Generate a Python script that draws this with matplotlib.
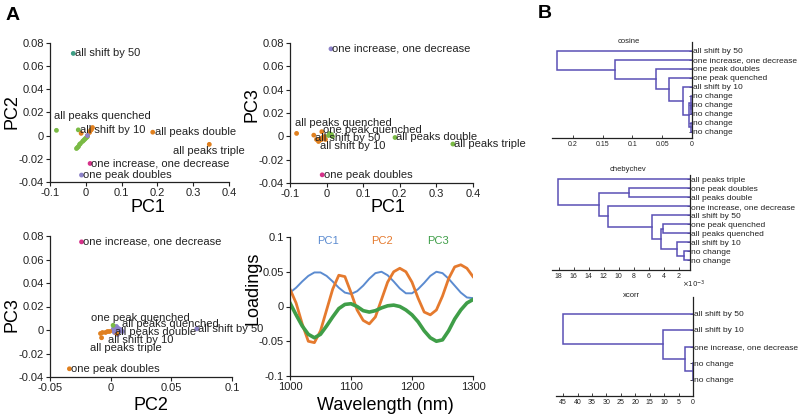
import matplotlib
matplotlib.use("Agg")
import matplotlib.pyplot as plt
import numpy as np

plt.rcParams['font.family'] = ['Liberation Sans', 'DejaVu Sans']
plt.rcParams['axes.unicode_minus'] = False

#-------- PCA scores of the labelled spectra ----------------------#
samples = ["all shift by 50", "all shift by 10", "all peaks quenched", "one peak quenched",
           "all peaks double", "all peaks triple", "one increase, one decrease", "one peak doubles"]
pc1 = [-0.035, -0.021, -0.082, -0.013, 0.187, 0.345, 0.012, -0.012]
pc2 = [0.071, 0.005, 0.0046, 0.002, 0.003, -0.0075, -0.024, -0.034]
pc3 = [0.001, -0.003, 0.0025, 0.004, -0.001, -0.0066, 0.075, -0.033]

# unlabelled points (replicates) near the origin, per panel
tl_green_x = [-0.027, -0.024, -0.021, -0.018, -0.015, -0.012, -0.009, -0.006, -0.003, 0.0, 0.003]
tl_green_y = [-0.011, -0.0098, -0.0086, -0.0074, -0.0062, -0.005, -0.004, -0.003, -0.002, -0.001, 0.0]
tl_orange_x = [0.004, 0.008, 0.011, 0.014, 0.017]
tl_orange_y = [0.001, 0.003, 0.0045, 0.006, 0.0075]
tr_orange_x = [-0.028, -0.024, -0.02, -0.016, -0.012, -0.008, -0.005]
tr_orange_y = [-0.002, -0.004, -0.003, -0.002, -0.001, 0.0, -0.002]
tr_green_x = [0.003, 0.007, 0.011, 0.014]
tr_green_y = [0.001, 0.003, 0.002, 0.0]
bl_orange_x = [-0.009, -0.007, -0.005, -0.003, -0.001, 0.001, 0.003]
bl_orange_y = [-0.0026, -0.002, -0.0015, -0.001, -0.0005, 0.0, 0.0006]
bl_purple_x = [0.002, 0.004, 0.006, 0.008, 0.003, 0.006, 0.009, 0.005]
bl_purple_y = [0.002, 0.003, 0.002, 0.001, -0.002, -0.001, -0.001, -0.003]

#-------- loadings -------------------------------------------------#
wavelength = list(range(1000, 1301, 10))
load_pc1 = [0.020, 0.027, 0.036, 0.044, 0.049, 0.049, 0.044, 0.036, 0.027, 0.020, 0.018,
            0.022, 0.030, 0.040, 0.048, 0.050, 0.045, 0.036, 0.026, 0.019, 0.019,
            0.025, 0.034, 0.044, 0.050, 0.048, 0.040, 0.030, 0.020, 0.013, 0.012]
load_pc2 = [0.025, 0.005, -0.025, -0.050, -0.052, -0.035, -0.005, 0.025, 0.045, 0.043, 0.020,
            -0.005, -0.020, -0.025, -0.015, 0.010, 0.035, 0.050, 0.055, 0.050, 0.035,
            0.012, -0.008, -0.012, -0.005, 0.015, 0.040, 0.057, 0.060, 0.055, 0.043]
load_pc3 = [0.005, -0.012, -0.028, -0.040, -0.045, -0.040, -0.028, -0.015, -0.003, 0.003, 0.004,
            0.000, -0.006, -0.008, -0.006, -0.002, 0.001, 0.002, 0.000, -0.005, -0.012,
            -0.022, -0.035, -0.045, -0.050, -0.048, -0.035, -0.018, -0.005, 0.005, 0.010]

#-------- dendrograms (leaves top to bottom, links = child a, child b, height) ----#
cos_leaves = ["all shift by 50", "one increase, one decrease", "one peak doubles",
              "one peak quenched", "all shift by 10", "no change", "no change",
              "no change", "no change", "no change"]
cos_links = [(6, 7, 0.001), (5, 10, 0.002), (8, 9, 0.001), (11, 12, 0.005),
             (4, 13, 0.015), (3, 14, 0.039), (2, 15, 0.061), (1, 16, 0.13), (0, 17, 0.226)]
cheb_leaves = ["all peaks triple", "one peak doubles", "all peaks double",
               "one increase, one decrease", "all shift by 50", "one peak quenched",
               "all peaks quenched", "all shift by 10", "no change", "no change"]
cheb_links = [(8, 9, 1.3), (7, 10, 2.2), (5, 6, 4.1), (12, 11, 4.4), (4, 13, 5.6),
              (3, 14, 11.5), (1, 2, 8.7), (16, 15, 12.6), (0, 17, 18.1)]
xc_leaves = ["all shift by 50", "all shift by 10", "one increase, one decrease",
             "no change", "no change"]
xc_links = [(3, 4, 0.15), (2, 5, 2.7), (1, 6, 10.4), (0, 7, 45.2)]

#-------- colours ----------#
GREEN = '#7ABA45'
ORANGE = '#E0801F'
MAGENTA = '#D6318A'
LAVENDER = '#8C82C9'
TEAL = '#3E9E85'
DENDRO = '#5A4FB5'

W, H = 800, 417
fig = plt.figure(figsize=(W / 100, H / 100), dpi=100)


def px_axes(l, t, r, b):
    return fig.add_axes([l / W, 1 - b / H, (r - l) / W, (b - t) / H])


def ftext(x, y, s, **kw):
    fig.text(x / W, 1 - y / H, s, ha='center', va='center', **kw)


def style_axes(ax):
    for s in ['top', 'right']:
        ax.spines[s].set_visible(False)
    for s in ['left', 'bottom']:
        ax.spines[s].set_color('#222222')
        ax.spines[s].set_linewidth(0.9)
    ax.tick_params(direction='out', length=3, width=0.8, labelsize=8, pad=1.5, colors='#222222')


def fmt(v):
    s = ('%.2f' % v).rstrip('0').rstrip('.')
    return '0' if s in ('0', '-0') else s


def scatter_panel(ax, xs, ys, colors, offsets, extras, xlim, xticks):
    for px_, py_, c in extras:
        ax.scatter(px_, py_, s=12, color=c, zorder=2, linewidths=0)
    ax.scatter(xs, ys, s=12, color=colors, zorder=3, linewidths=0)
    for x, y, name, off in zip(xs, ys, samples, offsets):
        if off is None:
            continue
        dx, dy, ha = off
        ax.annotate(name, (x, y), xytext=(dx, dy), textcoords='offset points',
                    ha=ha, va='center', fontsize=8, color='#222222', zorder=4,
                    annotation_clip=False)
    ax.set_xlim(xlim)
    ax.set_ylim(-0.04, 0.08)
    ax.set_xticks(xticks)
    ax.set_xticklabels([fmt(v) for v in xticks])
    yt = [-0.04, -0.02, 0, 0.02, 0.04, 0.06, 0.08]
    ax.set_yticks(yt)
    ax.set_yticklabels([fmt(v) for v in yt])
    style_axes(ax)


#--------- PC1 vs PC2 ----------#
ax1 = px_axes(50, 43, 229, 182)
scatter_panel(ax1, pc1, pc2,
              [TEAL, GREEN, GREEN, ORANGE, ORANGE, ORANGE, MAGENTA, LAVENDER],
              [(1, 0, 'left'), (1, 0, 'left'), (-2, 10, 'left'), None,
               (1.5, 0, 'left'), (0, -5, 'center'), (1, 0, 'left'), (1, 0, 'left')],
              [(tl_green_x, tl_green_y, GREEN), (tl_orange_x, tl_orange_y, ORANGE),
               ([0.004], [0.0005], LAVENDER)],
              (-0.1, 0.4), [-0.1, 0, 0.1, 0.2, 0.3, 0.4])

#--------- PC1 vs PC3 ----------#
ax2 = px_axes(290, 43, 473, 183)
scatter_panel(ax2, pc1, pc3,
              [ORANGE, ORANGE, ORANGE, ORANGE, GREEN, GREEN, LAVENDER, MAGENTA],
              [(1, -1.7, 'left'), (0.5, -4.6, 'left'), (-1, 7.2, 'left'), (1, 1.2, 'left'),
               (1, 0, 'left'), (1, 0, 'left'), (1, 0, 'left'), (1, 0, 'left')],
              [(tr_orange_x, tr_orange_y, ORANGE), (tr_green_x, tr_green_y, GREEN)],
              (-0.1, 0.4), [-0.1, 0, 0.1, 0.2, 0.3, 0.4])

#--------- PC2 vs PC3 ----------#
ax3 = px_axes(50, 236, 232, 377)
scatter_panel(ax3, pc2, pc3,
              [LAVENDER, ORANGE, LAVENDER, GREEN, LAVENDER, ORANGE, MAGENTA, ORANGE],
              [(1, 0, 'left'), (-6, -4.4, 'left'), (3.9, 2.4, 'left'), (-15.6, 5.5, 'left'),
               (0.5, -0.6, 'left'), (-8.4, -7.2, 'left'), (1, 0, 'left'), (1, 0, 'left')],
              [(bl_orange_x, bl_orange_y, ORANGE), (bl_purple_x, bl_purple_y, LAVENDER)],
              (-0.05, 0.1), [-0.05, 0, 0.05, 0.1])

#--------- loadings ----------#
ax4 = px_axes(290, 237, 473, 376)
ax4.plot(wavelength, load_pc1, color='#5B8BD0', lw=1.4)
ax4.plot(wavelength, load_pc2, color='#E57A2E', lw=2.0)
ax4.plot(wavelength, load_pc3, color='#3F9E48', lw=2.6)
ax4.text(1062, 0.094, "PC1", color='#5B8BD0', fontsize=8, ha='center', va='center')
ax4.text(1151, 0.094, "PC2", color='#E57A2E', fontsize=8, ha='center', va='center')
ax4.text(1243, 0.094, "PC3", color='#3F9E48', fontsize=8, ha='center', va='center')
ax4.set_xlim(1000, 1300)
ax4.set_ylim(-0.1, 0.1)
ax4.set_xticks([1000, 1100, 1200, 1300])
lt = [-0.1, -0.05, 0, 0.05, 0.1]
ax4.set_yticks(lt)
ax4.set_yticklabels([fmt(v) for v in lt])
style_axes(ax4)

#--------- axis labels and panel letters ----------#
ftext(148, 208, "PC1", fontsize=13)
ftext(12, 112, "PC2", fontsize=13, rotation=90)
ftext(388, 208, "PC1", fontsize=13)
ftext(252, 105, "PC3", fontsize=13, rotation=90)
ftext(151, 405, "PC2", fontsize=13)
ftext(12, 315, "PC3", fontsize=13, rotation=90)
ftext(385, 405, "Wavelength (nm)", fontsize=13)
ftext(253, 288, "Loadings", fontsize=13, rotation=90)
ftext(13, 15, "A", fontsize=14, fontweight='bold')
ftext(545, 13, "B", fontsize=14, fontweight='bold')


#--------- dendrograms ----------#
def dendro(ax, leaves, links, xlim, ylim, xticks, xticklabels, title, title_y):
    pos = [float(i + 1) for i in range(len(leaves))]
    hgt = [0.0] * len(leaves)
    for a, b, h in links:
        ax.plot([hgt[a], h, h, hgt[b]], [pos[a], pos[a], pos[b], pos[b]],
                color=DENDRO, lw=1.1, solid_joinstyle='miter')
        pos.append((pos[a] + pos[b]) / 2)
        hgt.append(h)
    ax.set_xlim(xlim)
    ax.set_ylim(ylim)
    ax.yaxis.tick_right()
    ax.set_yticks(range(1, len(leaves) + 1))
    ax.set_yticklabels(leaves, fontsize=6)
    ax.set_xticks(xticks)
    ax.set_xticklabels(xticklabels, fontsize=5)
    for s in ['top', 'left']:
        ax.spines[s].set_visible(False)
    for s in ['right', 'bottom']:
        ax.spines[s].set_color('#222222')
        ax.spines[s].set_linewidth(0.9)
    ax.tick_params(axis='y', direction='in', length=2, width=0.6, pad=1, colors='#222222')
    ax.tick_params(axis='x', direction='in', length=2, width=0.6, pad=2, colors='#222222')
    ax.text(0.55, title_y, title, transform=ax.transAxes, fontsize=5.5,
            ha='center', va='center', color='#222222')


ax5 = px_axes(552, 42, 692, 138)
cos_ticks = [0.2, 0.15, 0.1, 0.05, 0]
dendro(ax5, cos_leaves, cos_links, (0.235, 0), (10.7, 0.0),
       cos_ticks, [fmt(v) for v in cos_ticks], "cosine", 1.0)

ax6 = px_axes(552, 175, 690, 270)
cheb_ticks = [18, 16, 14, 12, 10, 8, 6, 4, 2]
dendro(ax6, cheb_leaves, cheb_links, (18.9, 0.5), (11.1, 0.55),
       cheb_ticks, [str(v) for v in cheb_ticks], "chebychev", 1.06)
ax6.text(0.94, -0.15, r"$\times10^{-3}$", transform=ax6.transAxes, fontsize=5,
         ha='left', va='center', color='#222222')

ax7 = px_axes(556, 297, 693, 396)
xc_ticks = [45, 40, 35, 30, 25, 20, 15, 10, 5, 0]
dendro(ax7, xc_leaves, xc_links, (47.5, 0), (6.0, 0.0),
       xc_ticks, [str(v) for v in xc_ticks], "xcorr", 1.02)

fig.savefig("out.png", dpi=100)
